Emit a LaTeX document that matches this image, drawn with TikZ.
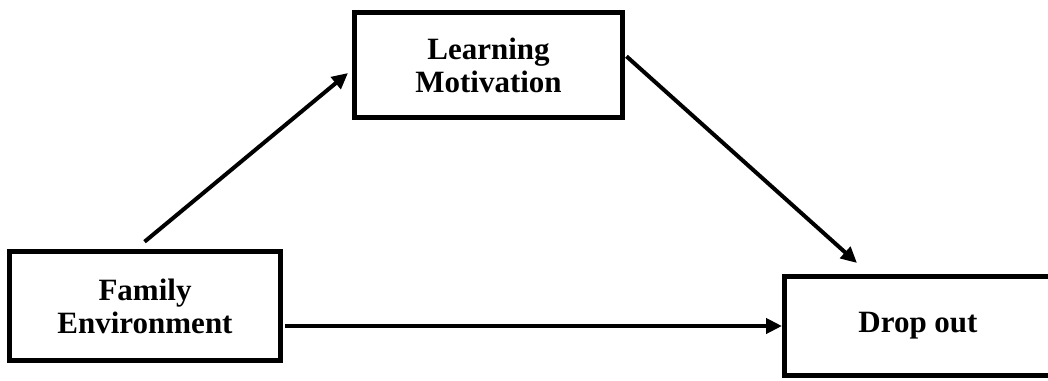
\documentclass[tikz,border=0pt]{standalone}
\usepackage{fontspec}
\setmainfont{Liberation Serif}
\usetikzlibrary{arrows.meta}

\begin{document}
\begin{tikzpicture}[%
    x=0.5pt, y=-0.5pt,
    factor/.style={%
        draw,
        rectangle,
        line width=2.5pt,
        align=center,
        font=\fontsize{15.5}{16.5}\selectfont\bfseries
    },
    path/.style={%
        line width=2pt,
        shorten <=1pt
    },
    >={Triangle[length=8pt,width=7.5pt]}
]
\useasboundingbox (0,0) rectangle (1048,380);
\clip (0,0) rectangle (1048,380);

% Variables
    \node[factor, minimum width=135.5pt, minimum height=54.5pt] (family) at (145,306) {Family\\Environment};
    \node[factor, minimum width=134pt, minimum height=52.5pt] (learning) at (488.5,65) {Learning\\Motivation};
    \node[factor, minimum width=133.5pt, minimum height=49.5pt] (dropout) at (918,326) {Drop out};

% Arrows
\draw[->, path] ([xshift=-1pt, yshift=3pt]family.north) -- ([xshift=-2pt, yshift=-4pt]learning.west);
\draw[->, path] ([yshift=5pt]learning.east) -- ([xshift=-30.5pt, yshift=5.5pt]dropout.north);
\draw[->, path] ([yshift=-10pt]family.east) -- (dropout.west);

\end{tikzpicture}
\end{document}
